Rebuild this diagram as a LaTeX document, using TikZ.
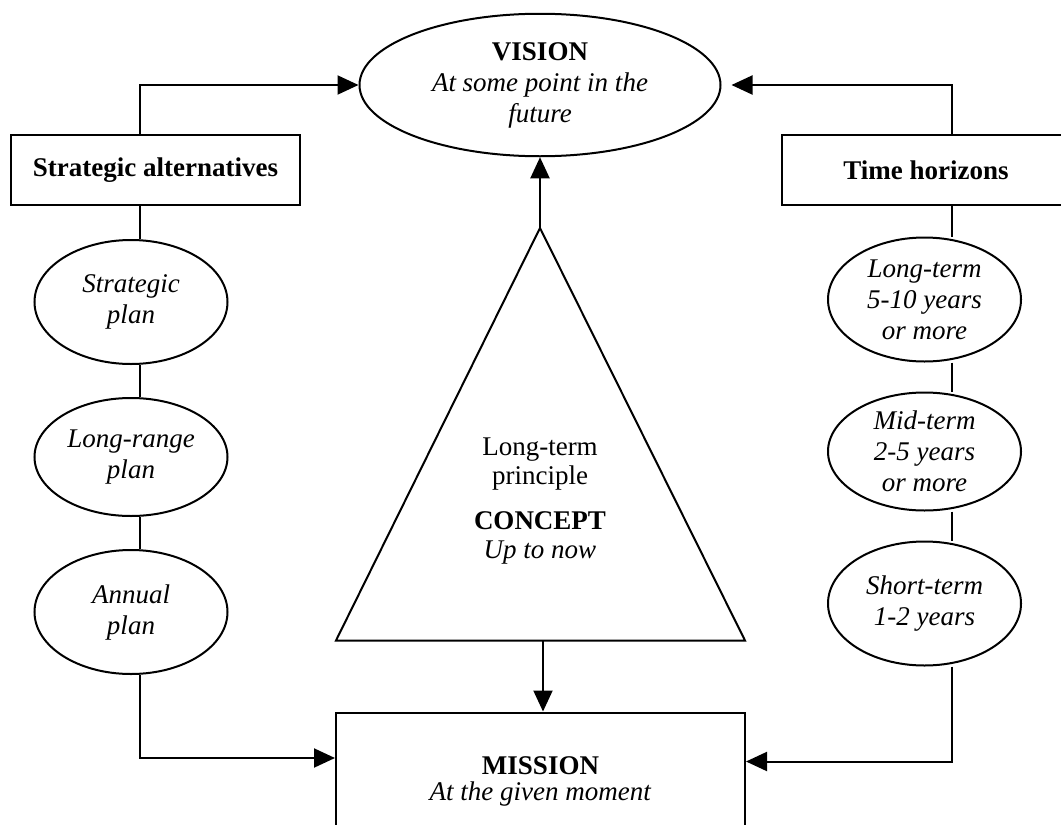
\documentclass[tikz,border=0pt]{standalone}
\usepackage{fontspec}
\setmainfont{Liberation Serif}
\usetikzlibrary{shapes.geometric,arrows.meta,calc}

\begin{document}
\begin{tikzpicture}[x=0.5pt,y=-0.5pt,line width=1pt,
    arr/.style={-{Triangle[length=10.5pt,width=9.5pt]}},
    oval/.style={draw,ellipse,inner sep=0pt,minimum width=96.5pt,minimum height=62pt,align=center,font=\fontsize{13.5}{15.5}\selectfont\itshape},
    headbox/.style={draw,rectangle,minimum width=144.5pt,minimum height=35pt,font=\fontsize{13.5}{15.5}\selectfont\bfseries}]
    \useasboundingbox (0,0) rectangle (1061,825);
    % columns of the side connectors
    \coordinate (lx) at (139.5,0);
    \coordinate (rx) at (952,0);
    % top and bottom
    \node[draw,ellipse,inner sep=0pt,minimum width=180.5pt,minimum height=71.25pt,align=center,font=\fontsize{13.5}{15.5}\selectfont] (vision) at (540,85) {\textbf{VISION}\\\textit{At some point in the}\\\textit{future}};
    \node[draw,minimum width=204.5pt,minimum height=68.5pt,align=center,font=\fontsize{13.5}{13}\selectfont] (mission) at (540.5,781) {\textbf{MISSION}\\\textit{At the given moment}};
    % triangle
    \draw (336,640.5) coordinate (bl) -- (540,228) coordinate (apex) -- (745,640.5) coordinate (br) -- cycle;
    \coordinate (base) at (543,640.5);
    \node[align=center,font=\fontsize{13.5}{14.5}\selectfont] (concept) at (540,501) {Long-term\\principle\\[8pt]\textbf{CONCEPT}\\\textit{Up to now}};
    % left column
    \node[headbox] (alt) at (155.5,170) {Strategic alternatives};
    \node[oval] (sp) at (131,302) {Strategic\\plan};
    \node[oval,minimum height=59pt] (lr) at (131,457) {Long-range\\plan};
    \node[oval] (ap) at (131,612) {Annual\\plan};
    % right column
    \node[headbox] (hor) at (926,170) {Time horizons};
    \node[oval] (lt) at (924.5,299.5) {Long-term\\5-10 years\\or more};
    \node[oval,minimum height=59pt] (mt) at (924.5,451.5) {Mid-term\\2-5 years\\or more};
    \node[oval] (st) at (924.5,603.5) {Short-term\\1-2 years};
    % connectors
    \draw (alt.south -| lx) -- (sp.north -| lx);
    \draw (sp.south -| lx) -- (lr.north -| lx);
    \draw (lr.south -| lx) -- (ap.north -| lx);
    \draw (hor.south -| rx) -- (lt.north -| rx);
    \draw (lt.south -| rx) -- (mt.north -| rx);
    \draw (mt.south -| rx) -- (st.north -| rx);
    \draw[arr] (alt.north -| lx) |- (vision.west);
    \draw[arr,shorten >=5pt] (hor.north -| rx) |- (vision.east);
    \draw[arr] (apex) -- (vision.south);
    \draw[arr] (base) -- (base |- mission.north);
    \draw[arr] (ap.south -| lx) |- ($(mission.north west)+(0,46.5)$);
    \draw[arr] (st.south -| rx) |- ($(mission.north east)+(0,50)$);
\end{tikzpicture}
\end{document}
